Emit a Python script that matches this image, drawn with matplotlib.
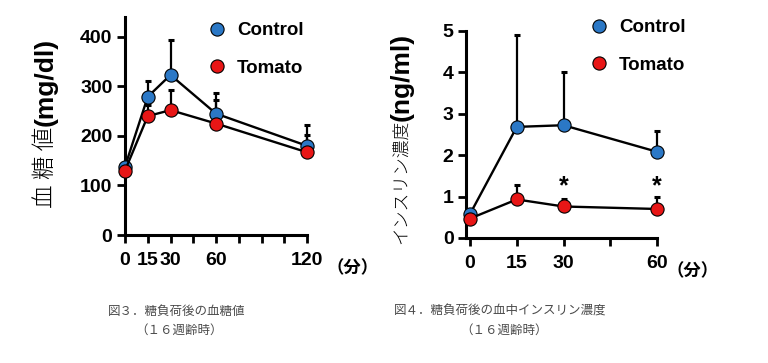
import matplotlib
matplotlib.use("Agg")
import matplotlib.pyplot as plt

plt.rcParams['font.family'] = ['Liberation Sans', 'Noto Sans CJK JP', 'DejaVu Sans']

# ---- data: blood glucose ----
t_glu = [0, 15, 30, 60, 120]
glu_ctrl = [138, 279, 323, 245, 180]
glu_ctrl_err = [8, 31, 71, 41, 42]
glu_tom = [130, 240, 252, 225, 167]
glu_tom_err = [6, 22, 41, 47, 34]
glu_xticks = [0, 15, 30, 60, 120]

# ---- data: insulin ----
t_ins = [0, 15, 30, 60]
ins_ctrl = [0.58, 2.68, 2.72, 2.08]
ins_ctrl_err = [0.05, 2.22, 1.28, 0.5]
ins_tom = [0.47, 0.93, 0.76, 0.70]
ins_tom_err = [0.04, 0.35, 0.19, 0.3]
ins_star_t = [30, 60]
ins_star_y = [1.25, 1.25]

blue = "#2b78c6"
red = "#e81616"

W, H = 768, 363
fig = plt.figure(figsize=(W / 100, H / 100), dpi=100)


def fx(x):
    return x / W


def fy(y):
    return 1 - y / H


def draw(ax, t, ctrl, ctrl_err, tom, tom_err):
    for vals, err, col, lab in [(ctrl, ctrl_err, blue, "Control"), (tom, tom_err, red, "Tomato")]:
        ax.errorbar(t, vals, yerr=[[0] * len(err), err], fmt="none", ecolor="black",
                    elinewidth=1.6, capsize=2.5, capthick=2.2, clip_on=False, zorder=2)
        ax.plot(t, vals, color="black", lw=1.7, marker="o", ms=9.5, mfc=col, mec="black",
                mew=0.8, clip_on=False, zorder=3, label=lab)
    for s in ["top", "right"]:
        ax.spines[s].set_visible(False)
    for s in ["left", "bottom"]:
        ax.spines[s].set_linewidth(2.2)
    ax.tick_params(width=2, length=6, labelsize=14, direction="out")
    ax.tick_params(axis="y", pad=3)
    ax.tick_params(axis="x", pad=6)


def legend(ax, x, y):
    leg = ax.legend(loc="upper left", bbox_to_anchor=(fx(x), fy(y)), bbox_transform=fig.transFigure,
                    frameon=False, handlelength=1.0, handletextpad=0.55, labelspacing=1.1,
                    borderpad=0, borderaxespad=0, prop={"weight": "bold", "size": 13.5})
    for h in leg.legend_handles:
        h.set_linestyle("none")


# ---- left chart ----
ax1 = fig.add_axes([fx(125), fy(235), fx(307 - 125), (235 - 17) / H])
draw(ax1, t_glu, glu_ctrl, glu_ctrl_err, glu_tom, glu_tom_err)
ax1.set_xlim(0, 120)
ax1.set_ylim(0, 440)
ax1.set_yticks([0, 100, 200, 300, 400])
ax1.set_xticks(range(0, 121, 15))
ax1.set_xticklabels([str(v) if v in glu_xticks else "" for v in range(0, 121, 15)])
for lbl in ax1.get_xticklabels() + ax1.get_yticklabels():
    lbl.set_fontweight("bold")
legend(ax1, 208, 22)

fig.text(fx(46), fy(208), "血 糖 値", rotation=90, ha="center", va="bottom", fontsize=17,
         family=["Noto Sans CJK JP"], fontweight="light")
fig.text(fx(46), fy(126), "(mg/dl)", rotation=90, ha="center", va="bottom", fontsize=19,
         fontweight="bold")
fig.text(fx(326), fy(268), "（分）", ha="left", va="center", fontsize=12.5,
         family=["Noto Sans CJK JP"], fontweight="bold")

# ---- right chart ----
ax2 = fig.add_axes([fx(466), fy(238), fx(657 - 466), (238 - 30.7) / H])
draw(ax2, t_ins, ins_ctrl, ins_ctrl_err, ins_tom, ins_tom_err)
ax2.set_xlim(-1.3, 60)
ax2.set_ylim(0, 5)
ax2.set_yticks([0, 1, 2, 3, 4, 5])
ax2.set_xticks([0, 15, 30, 45, 60])
ax2.set_xticklabels(["0", "15", "30", "", "60"])
for lbl in ax2.get_xticklabels() + ax2.get_yticklabels():
    lbl.set_fontweight("bold")
for xs, ys in zip(ins_star_t, ins_star_y):
    ax2.text(xs, ys, "*", ha="center", va="center", fontsize=18, fontweight="bold")
legend(ax2, 590, 19)

fig.text(fx(402), fy(244), "インスリン濃度", rotation=90, ha="center", va="bottom", fontsize=12.8,
         family=["Noto Sans CJK JP"], fontweight="light")
fig.text(fx(402), fy(121), "(ng/ml)", rotation=90, ha="center", va="bottom", fontsize=19,
         fontweight="bold")
fig.text(fx(667), fy(271), "（分）", ha="left", va="center", fontsize=12.5,
         family=["Noto Sans CJK JP"], fontweight="bold")

# ---- captions ----
cap = dict(ha="center", va="center", fontsize=9, color="#4a4a4a", family=["Noto Sans CJK JP"])
fig.text(fx(177), fy(311), "図３．糖負荷後の血糖値", **cap)
fig.text(fx(179), fy(330), "（１６週齢時）", **cap)
fig.text(fx(500), fy(311), "図４．糖負荷後の血中インスリン濃度", **cap)
fig.text(fx(504), fy(330), "（１６週齢時）", **cap)

fig.savefig("out.png", dpi=100)
